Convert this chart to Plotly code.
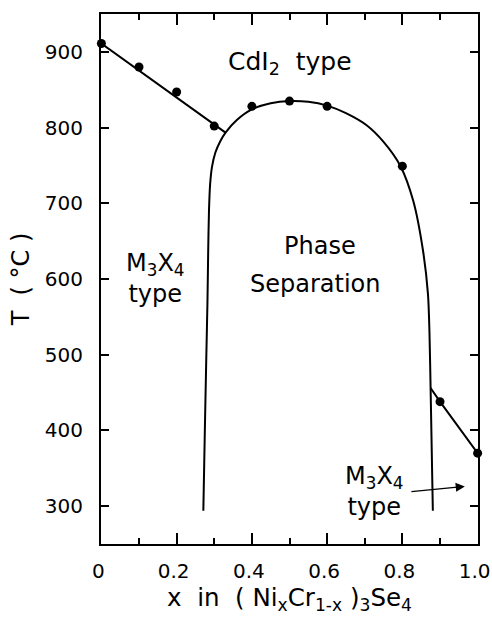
import plotly.graph_objects as go

# measured data points
pts_x = [0.0, 0.1, 0.2, 0.3, 0.4, 0.5, 0.6, 0.8, 0.9, 1.0]
pts_T = [911, 880, 847, 802, 828, 835, 828, 749, 438, 370]

# CdI2 / M3X4 boundary (left, straight)
left_line_x = [0.0, 0.331]
left_line_T = [911, 793]

# Miscibility gap (phase separation dome)
dome_x = [0.271, 0.275, 0.279, 0.282, 0.284, 0.286, 0.289, 0.294, 0.303, 0.316,
          0.331, 0.36, 0.40, 0.45, 0.50, 0.55, 0.60, 0.65, 0.705, 0.75,
          0.795, 0.829, 0.855, 0.868, 0.872, 0.875, 0.881]
dome_T = [294, 400, 500, 571, 640, 690, 725, 748, 767, 782,
          794, 810, 824, 832, 835, 834, 829, 819, 803, 781,
          749, 703, 637, 580, 530, 456, 294]

# right boundary (straight)
right_line_x = [0.875, 0.9, 1.0]
right_line_T = [456, 438, 370]

x_tickvals = [0, 0.2, 0.4, 0.6, 0.8, 1.0]
x_ticktext = ["0", "0.2", "0.4", "0.6", "0.8", "1.0"]
x_minor_tickvals = [0.1, 0.3, 0.5, 0.7, 0.9]
y_tickvals = [300, 400, 500, 600, 700, 800, 900]

FONT = "DejaVu Sans"
fig = go.Figure()
line_style = dict(color="black", width=2)
fig.add_trace(go.Scatter(x=left_line_x, y=left_line_T, mode="lines", line=line_style))
fig.add_trace(go.Scatter(x=dome_x, y=dome_T, mode="lines",
                         line=dict(color="black", width=2, shape="spline", smoothing=0.8)))
fig.add_trace(go.Scatter(x=right_line_x, y=right_line_T, mode="lines", line=line_style))
fig.add_trace(go.Scatter(x=pts_x, y=pts_T, mode="markers",
                         marker=dict(color="black", size=9), cliponaxis=False))

txt = dict(showarrow=False, font=dict(family=FONT, size=24, color="black"),
           xref="x", yref="y")
fig.add_annotation(x=0.50, y=885, text="CdI<sub>2</sub>  type",
                   **{**txt, "font": dict(family=FONT, size=25, color="black")})
fig.add_annotation(x=0.581, y=643, text="Phase", **txt)
fig.add_annotation(x=0.568, y=593, text="Separation", **txt)
fig.add_annotation(x=0.145, y=601, text="M<sub>3</sub>X<sub>4</sub><br>type", **txt)
fig.add_annotation(x=0.727, y=319, text="M<sub>3</sub>X<sub>4</sub><br>type", **txt)
fig.add_annotation(x=0.966, y=326, ax=0.82, ay=319, xref="x", yref="y",
                   axref="x", ayref="y", text="", showarrow=True,
                   arrowhead=2, arrowsize=1.4, arrowwidth=1.3, arrowcolor="black")

axis_common = dict(showline=True, linecolor="black", linewidth=2, mirror="ticks",
                   ticks="inside", tickcolor="black", tickwidth=1.5,
                   showgrid=False, zeroline=False, ticklabeloverflow="allow",
                   tickfont=dict(family=FONT, size=20, color="black"))

fig.update_xaxes(range=[-0.001, 1.001], tickvals=x_tickvals, ticktext=x_ticktext,
                 ticklen=11, ticklabelstandoff=8, ticklabelshift=-3, automargin=False,
                 minor=dict(tickvals=x_minor_tickvals, ticks="inside", ticklen=6,
                            tickcolor="black", tickwidth=1.5),
                 title=dict(text="x  in  ( Ni<sub>x</sub>Cr<sub>1-x</sub> )<sub>3</sub>Se<sub>4</sub>",
                            font=dict(family=FONT, size=24.5, color="black"), standoff=6),
                 **axis_common)
fig.update_yaxes(range=[250, 950], tickvals=y_tickvals, ticklen=8,
                 ticklabelstandoff=12, automargin=False,
                 title=dict(text="T  ( °C )", font=dict(family=FONT, size=24, color="black"),
                            standoff=8),
                 **axis_common)

fig.update_layout(width=492, height=618, showlegend=False,
                  paper_bgcolor="white", plot_bgcolor="white",
                  margin=dict(l=101, r=14, t=14, b=74, autoexpand=False))
fig.write_html("out.html")
